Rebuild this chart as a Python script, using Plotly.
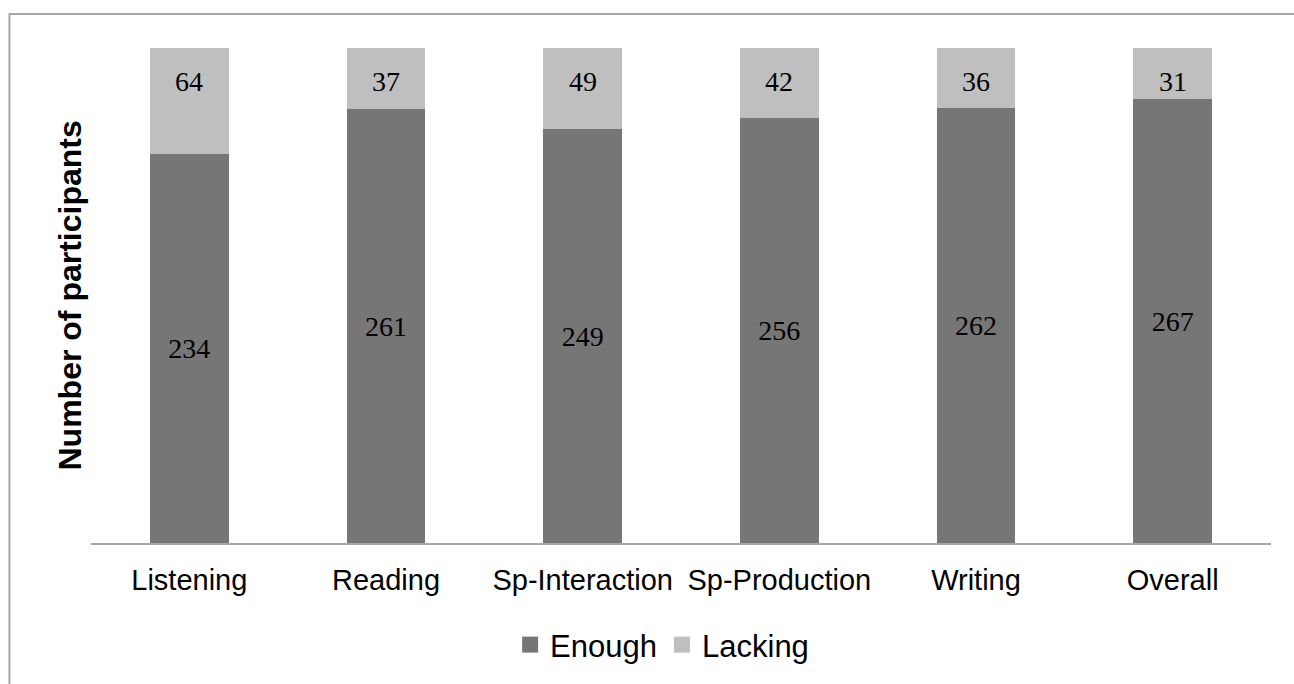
import plotly.graph_objects as go

categories = ["Listening", "Reading", "Sp-Interaction", "Sp-Production", "Writing", "Overall"]
enough = [234, 261, 249, 256, 262, 267]
lacking = [64, 37, 49, 42, 36, 31]

C_ENOUGH = "#767676"
C_LACK = "#bfbfbf"
SERIF = "Liberation Serif, Times New Roman, serif"
SANS = "Liberation Sans, Arial, sans-serif"

totals = [e + l for e, l in zip(enough, lacking)]

fig = go.Figure()
fig.add_trace(go.Bar(
    x=categories, y=enough, name="Enough", marker=dict(color=C_ENOUGH, line=dict(width=0)),
    text=[str(v) for v in enough], textposition="inside", insidetextanchor="middle",
    textfont=dict(family=SERIF, size=28, color="black"), showlegend=False,
    constraintext="none",
))
fig.add_trace(go.Bar(
    x=categories, y=lacking, name="Lacking", marker=dict(color=C_LACK, line=dict(width=0)),
    showlegend=False,
))
# lacking labels near the top of each bar
for c, t, l in zip(categories, totals, lacking):
    fig.add_annotation(x=c, y=t, text=str(l), showarrow=False, yanchor="top", yshift=-16,
                       font=dict(family=SERIF, size=28, color="black"))

# legend entries
fig.add_trace(go.Scatter(x=[None], y=[None], mode="markers", name="Enough",
                         marker=dict(symbol="square", size=17, color=C_ENOUGH)))
fig.add_trace(go.Scatter(x=[None], y=[None], mode="markers", name="Lacking",
                         marker=dict(symbol="square", size=17, color=C_LACK)))

fig.add_annotation(xref="paper", yref="paper", x=-0.0178, y=0.5, text="Number of participants",
                   textangle=-90, showarrow=False, xanchor="center", yanchor="middle",
                   font=dict(family=SANS, size=32, color="black", weight="bold"))

fig.add_shape(type="rect", xref="paper", yref="paper", x0=-0.0691, x1=1.08, y0=-0.5, y1=1.0687,
              line=dict(color="#a6a6a6", width=2), fillcolor="rgba(0,0,0,0)", layer="below")

fig.update_layout(
    width=1294, height=684,
    margin=dict(l=91, r=23, t=48, b=141, pad=0),
    paper_bgcolor="white", plot_bgcolor="white",
    barmode="stack", bargap=0.6,
    font=dict(family=SANS, color="black"),
    legend=dict(orientation="h", traceorder="normal", x=0.484, xanchor="center", y=-0.206,
                yanchor="middle", font=dict(family=SANS, size=31, color="black"),
                bgcolor="rgba(0,0,0,0)"),
    xaxis=dict(showline=True, linecolor="#a6a6a6", linewidth=2, ticks="outside", ticklen=10,
               tickcolor="rgba(0,0,0,0)", tickfont=dict(family=SANS, size=29, color="black"),
               showgrid=False, zeroline=False),
    yaxis=dict(range=[0, 298], showticklabels=False, showgrid=False, zeroline=False,
               showline=False, ticks=""),
)

fig.write_html("out.html")
